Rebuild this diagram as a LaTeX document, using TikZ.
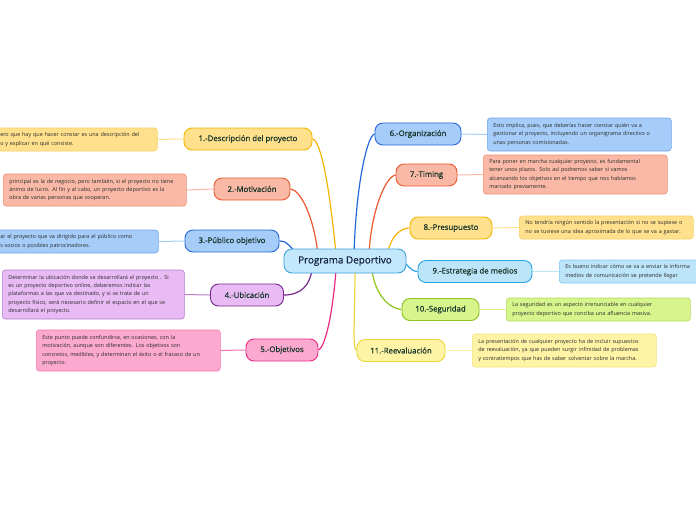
\documentclass[tikz,border=0pt]{standalone}
\usepackage{fontspec}
\setmainfont{Open Sans}
\newfontfamily\topicfont[FakeBold=0.7]{Open Sans}
\usetikzlibrary{backgrounds}
\definecolor{topictext}{HTML}{16352A}
\definecolor{notetext}{HTML}{2A2A2A}
\definecolor{centertext}{HTML}{16264A}
% fills / borders
\definecolor{yF}{HTML}{FFE08C}\definecolor{yB}{HTML}{F5B400}\definecolor{yN}{HTML}{F7CF62}
\definecolor{oF}{HTML}{F9B9A6}\definecolor{oB}{HTML}{E9582E}\definecolor{oN}{HTML}{EE8C70}
\definecolor{bF}{HTML}{A6CDF9}\definecolor{bB}{HTML}{2468D8}\definecolor{bN}{HTML}{6FA5EC}
\definecolor{pF}{HTML}{E9BBF5}\definecolor{pB}{HTML}{76288C}\definecolor{pN}{HTML}{B57CC9}
\definecolor{kF}{HTML}{FCA9CF}\definecolor{kB}{HTML}{EA2A83}\definecolor{kN}{HTML}{F276AF}
\definecolor{sF}{HTML}{BDE5F9}\definecolor{sB}{HTML}{28A4E3}\definecolor{sN}{HTML}{7CC6EE}
\definecolor{gF}{HTML}{D8F48C}\definecolor{gB}{HTML}{8DC21F}\definecolor{gN}{HTML}{B2DB5A}
\definecolor{lF}{HTML}{FFF4A6}\definecolor{lB}{HTML}{EBD53A}\definecolor{lN}{HTML}{F0E27A}
\definecolor{cF}{HTML}{C4E8FB}\definecolor{cB}{HTML}{3AA0DD}
\tikzset{
  topic/.style={draw, rounded corners=8pt, line width=0.9pt, minimum height=22pt, inner sep=0pt,
    font=\topicfont\fontsize{7.8}{9}\selectfont, text=topictext},
  notebox/.style={draw, rounded corners=3pt, line width=0.6pt, align=left, anchor=west,
    font=\fontsize{5.45}{8.3}\selectfont, text=notetext, inner xsep=6pt, inner ysep=0pt},
  link/.style={line width=1.2pt},
  notelink/.style={line width=1pt},
}
\begin{document}
\begin{tikzpicture}[x=1pt,y=-1pt]
\useasboundingbox (0,0) rectangle (696,520);
% central
\node[draw=cB, fill=cF, rounded corners=8pt, line width=0.9pt, minimum width=122pt, minimum height=24pt,
  font=\topicfont\fontsize{9.9}{11}\selectfont, text=centertext] (c) at (345,261) {Programa Deportivo};
% topics
\node[topic, draw=yB, fill=yF, minimum width=128pt] (t1) at (248,139) {1.-Descripción del proyecto};
\node[topic, draw=oB, fill=oF, minimum width=76pt] (t2) at (252,189) {2.-Motivación};
\node[topic, draw=bB, fill=bF, minimum width=94pt] (t3) at (232,241) {3.-Público objetivo};
\node[topic, draw=pB, fill=pF, minimum width=73pt] (t4) at (247,295) {4.-Ubicación};
\node[topic, draw=kB, fill=kF, minimum width=72pt] (t5) at (282,350) {5.-Objetivos};
\node[topic, draw=bB, fill=bF, minimum width=86pt] (t6) at (418,134) {6.-Organización};
\node[topic, draw=oB, fill=oF, minimum width=61pt] (t7) at (426.5,175) {7.-Timing};
\node[topic, draw=yB, fill=yF, minimum width=82pt] (t8) at (451,228) {8.-Presupuesto};
\node[topic, draw=sB, fill=sF, minimum width=114pt] (t9) at (475,271.5) {9.-Estrategia de medios};
\node[topic, draw=gB, fill=gF, minimum width=77pt] (t10) at (440.5,309.5) {10.-Seguridad};
\node[topic, draw=lB, fill=lF, minimum width=88pt] (t11) at (401,350.5) {11.-Reevaluación};
% notes
\node[notebox, draw=yN, fill=yF, minimum width=163pt, text width=151pt, minimum height=23pt] (n1) at (-6,139.5)
 {ero que hay que hacer constar es una descripción del\\o y explicar en qué consiste.};
\node[notebox, draw=oN, fill=oF, minimum width=183pt, text width=171pt, minimum height=32pt] (n2) at (3,190)
 {principal es la de negocio, pero también, si el proyecto no tiene\\ánimo de lucro. Al fin y al cabo, un proyecto deportivo es la\\obra de varias personas que cooperan.};
\node[notebox, draw=bN, fill=bF, minimum width=164pt, text width=152pt, minimum height=23pt] (n3) at (-6,241.5)
 {ar el proyecto que va dirigido para el público como\\s socios o posibles patrocinadores.};
\node[notebox, draw=pN, fill=pF, minimum width=182pt, text width=170pt, minimum height=49pt] (n4) at (2,294.5)
 {Determinar la ubicación donde se desarrollará el proyecto . Si\\es un proyecto deportivo online, deberemos indicar las\\plataformas a las que va destinado, y si se trata de un\\proyecto físico, será necesario definir el espacio en el que se\\desarrollará el proyecto.};
\node[notebox, draw=kN, fill=kF, minimum width=184pt, text width=172pt, minimum height=41pt] (n5) at (36,350.5)
 {Este punto puede confundirse, en ocasiones, con la\\motivación, aunque son diferentes. Los objetivos son\\concretos, medibles, y determinan el éxito o el fracaso de un\\proyecto.};
\node[notebox, draw=bN, fill=bF, minimum width=184pt, text width=172pt, minimum height=33pt] (n6) at (487,134.5)
 {Esto implica, pues, que deberías hacer constar quién va a\\gestionar el proyecto, incluyendo un organigrama directivo o\\unas personas comisionadas.};
\node[notebox, draw=oN, fill=oF, minimum width=184pt, text width=172pt, minimum height=39pt] (n7) at (483,174.5)
 {Para poner en marcha cualquier proyecto, es fundamental\\tener unos plazos. Solo así podremos saber si vamos\\alcanzando los objetivos en el tiempo que nos habíamos\\marcado previamente.};
\node[notebox, draw=yN, fill=yF, minimum width=174pt, text width=162pt, minimum height=23pt] (n8) at (519,227.5)
 {No tendría ningún sentido la presentación si no se supiese o\\no se tuviese una idea aproximada de lo que se va a gastar.};
\node[notebox, draw=sN, fill=sF, minimum width=160pt, text width=148pt, minimum height=23pt] (n9) at (559,271.5)
 {Es bueno indicar cómo se va a enviar la informa\\medios de comunicación se pretende llegar};
\node[notebox, draw=gN, fill=gF, minimum width=184pt, text width=172pt, minimum height=23pt] (n10) at (506,309.5)
 {La seguridad es un aspecto irrenunciable en cualquier\\proyecto deportivo que conciba una afluencia masiva.};
\node[notebox, draw=lN, fill=lF, minimum width=184pt, text width=172pt, minimum height=33pt] (n11) at (472,350.5)
 {La presentación de cualquier proyecto ha de incluir supuestos\\de reevaluación, ya que pueden surgir infinidad de problemas\\y contratiempos que has de saber solventar sobre la marcha.};
\begin{scope}[on background layer]
% central links
\draw[link, yB] (t1.east) .. controls (322,140) and (331,200) .. ([xshift=-9pt,yshift=-6pt]c.north);
\draw[link, oB] (t2.east) .. controls (301,190) and (314,218) .. ([xshift=-27pt,yshift=-6pt]c.north);
\draw[link, bB] (t3.east) .. controls (290,241) and (290,250) .. ([xshift=-48pt,yshift=-3pt]c.north);
\draw[link, pB] (t4.east) .. controls (301,295) and (310,285) .. ([xshift=-33pt,yshift=4pt]c.south);
\draw[link, kB] (t5.east) .. controls (327,346) and (334,300) .. ([xshift=-9pt,yshift=4pt]c.south);
\draw[link, bB] (t6.west) .. controls (367,136) and (356,185) .. ([xshift=9pt,yshift=-6pt]c.north);
\draw[link, oB] (t7.west) .. controls (385,177) and (371,212) .. ([xshift=24pt,yshift=-6pt]c.north);
\draw[link, yB] (t8.west) .. controls (398,228) and (390,240) .. ([xshift=42pt,yshift=-6pt]c.north);
\draw[link, sB] (t9.west) .. controls (410,271) and (408,265) .. ([xshift=-6pt,yshift=3pt]c.east);
\draw[link, gB] (t10.west) .. controls (386,308) and (374,290) .. ([xshift=27pt,yshift=4pt]c.south);
\draw[link, lB] (t11.west) .. controls (352,348) and (355,320) .. ([xshift=10pt,yshift=4pt]c.south);
% note links
\draw[notelink, yF] (t1.west) -- (n1.east);
\draw[notelink, oF] (t2.west) -- (n2.east);
\draw[notelink, bF] (t3.west) -- (n3.east);
\draw[notelink, pN] (t4.west) -- (n4.east);
\draw[notelink, kN] (t5.west) -- (n5.east);
\draw[notelink, bF] (t6.east) -- (n6.west);
\draw[notelink, oF] (t7.east) -- (n7.west);
\draw[notelink, yF] (t8.east) -- (n8.west);
\draw[notelink, sF] (t9.east) -- (n9.west);
\draw[notelink, gF] (t10.east) -- (n10.west);
\draw[notelink, lF] (t11.east) -- (n11.west);
\end{scope}
\end{tikzpicture}
\end{document}
